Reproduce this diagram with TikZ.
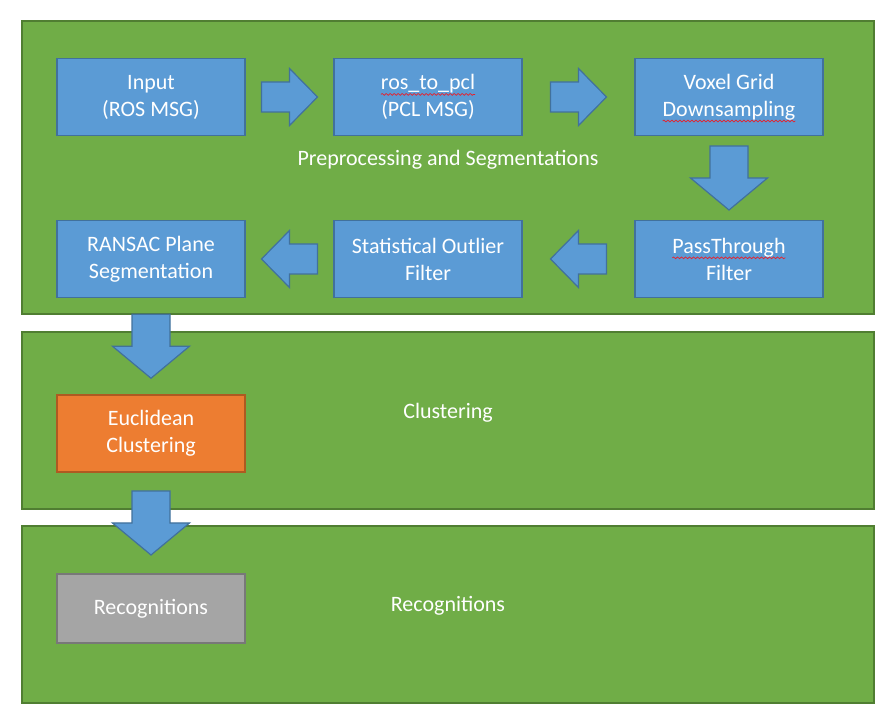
\documentclass[tikz,border=0pt]{standalone}
\usepackage{fontspec}
\setmainfont{Carlito}
\usepackage{tikz}
\usetikzlibrary{calc,decorations.pathmorphing}
\definecolor{panelgreen}{HTML}{70AD47}
\definecolor{panelline}{HTML}{507E32}
\definecolor{boxblue}{HTML}{5B9BD5}
\definecolor{boxline}{HTML}{41719C}
\definecolor{boxorange}{HTML}{ED7D31}
\definecolor{orangeline}{HTML}{AE5A21}
\definecolor{boxgray}{HTML}{A5A5A5}
\definecolor{grayline}{HTML}{787878}
\definecolor{spellred}{HTML}{E8202A}
% red wavy underline under one word
\newcommand{\spellmark}[1]{\tikz[baseline=(w.base)]{%
  \node[inner sep=0pt,outer sep=0pt,minimum width=0pt,minimum height=0pt,
        draw=none,fill=none,anchor=base] (w) {#1};
  \draw[overlay,spellred,line width=0.35pt,decorate,
        decoration={snake,amplitude=0.45pt,segment length=2pt}]
    ([yshift=-2.4pt]w.base west) -- ([yshift=-2.4pt]w.base east);}}
\tikzset{
  panel/.style={draw=panelline,line width=1pt,fill=panelgreen,
                minimum width=426pt,inner sep=0pt},
  box/.style={draw=boxline,line width=0.8pt,fill=boxblue,text=white,align=center,
              font=\fontsize{11}{13.5}\selectfont,
              minimum width=94pt,minimum height=38.5pt,inner sep=0pt},
  obox/.style={box,fill=boxorange,draw=orangeline},
  grbox/.style={box,fill=boxgray,draw=grayline,minimum height=34.5pt},
  lbl/.style={text=white,font=\fontsize{11}{13.5}\selectfont},
  barrow/.style={draw=boxline,line width=0.6pt,fill=boxblue,line join=miter},
}
% block arrow centred between two anchors
% #1,#2 anchors; #3 half length; #4 half shaft; #5 half head; #6 head length
\newcommand{\barrow}[6]{%
  \coordinate (m) at ($(#1)!0.5!(#2)$);
  \coordinate (s) at ($(m)!#3!(#1)$);
  \coordinate (t) at ($(m)!#3!(#2)$);
  \coordinate (h) at ($(t)!#6!(s)$);
  \draw[barrow] ($(s)!#4!90:(t)$) -- ($(h)!#4!90:(t)$) -- ($(h)!#5!90:(t)$)
    -- (t) -- ($(h)!#5!-90:(t)$) -- ($(h)!#4!-90:(t)$) -- ($(s)!#4!-90:(t)$) -- cycle;
}

\begin{document}
\begin{tikzpicture}[x=0.5pt,y=-0.5pt]
\useasboundingbox (0,0) rectangle (885,716);
% stages
\node[panel,minimum height=146.5pt] (pre) at (448,167.5) {};
\node[panel,minimum height=88.5pt]  (clu) at (448,420.5) {};
\node[panel,minimum height=88.5pt]  (rcg) at (448,614.5) {};
\node[lbl] (prel) at (448,160) {Preprocessing and Segmentations};
\node[lbl] (clul) at (448,413) {Clustering};
\node[lbl] (rcgl) at (448,606) {Recognitions};
% steps
\node[box] (in)   at (151,97)  {Input\\(ROS MSG)};
\node[box] (ros)  at (428,97)  {\spellmark{ros\_to\_pcl}\\(PCL MSG)};
\node[box] (vox)  at (729,97)  {Voxel Grid\\\spellmark{Downsampling}};
\node[box] (pass) at (729,259) {\spellmark{PassThrough}\\Filter};
\node[box] (stat) at (428,259) {Statistical Outlier\\Filter};
\node[box] (ran)  at (151,259) {RANSAC Plane\\Segmentation};
\node[obox] (euc) at (151,433.5) {Euclidean\\Clustering};
\node[grbox] (rec) at (151,608.5) {Recognitions};
% flow
\barrow{in.east}{ros.west}{14pt}{7.5pt}{14.25pt}{14pt}
\barrow{ros.east}{vox.west}{14pt}{7.5pt}{14.25pt}{14pt}
\barrow{vox.south}{pass.north}{16pt}{9.5pt}{19.25pt}{16pt}
\barrow{pass.west}{stat.east}{14pt}{7.5pt}{14.25pt}{14pt}
\barrow{stat.west}{ran.east}{14pt}{7.5pt}{14.25pt}{14pt}
\barrow{ran.south}{euc.north}{16pt}{9.5pt}{19.25pt}{16pt}
\barrow{euc.south}{rec.north}{16pt}{9.5pt}{19.25pt}{16pt}
\end{tikzpicture}
\end{document}
